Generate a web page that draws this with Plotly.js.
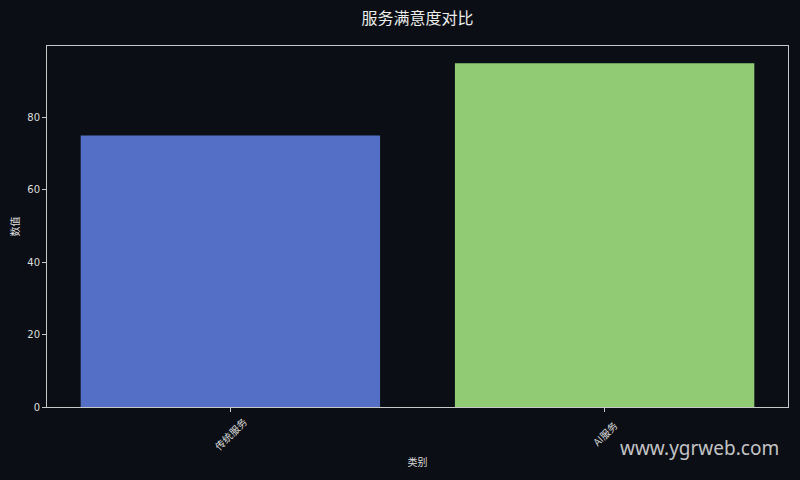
<!DOCTYPE html>
<html>
<head>
<meta charset="utf-8">
<script src="https://cdn.plot.ly/plotly-3.0.1.min.js"></script>
<style>
  html, body { margin: 0; padding: 0; background: #0b0e14; }
  #chart { width: 800px; height: 480px; }
</style>
</head>
<body>
<div id="chart"></div>
<script>
// chart data
const categories = ['传统服务', 'AI服务'];
const values = [75, 95];
const barColors = ['#5470c6', '#91cc75'];
const yTicks = [0, 20, 40, 60, 80];

const textColor = '#dddddd';
const spineColor = '#c8c8c8';
const cjkFont = '"Noto Sans CJK SC", "DejaVu Sans", sans-serif';

// rotated category labels, centred on their tick like matplotlib's rotation=45
const labelNotes = categories.map(c => ({
    x: c, xref: 'x',
    y: 0, yref: 'paper',
    yanchor: 'middle', xanchor: 'center',
    yshift: -26,
    text: c,
    textangle: -45,
    showarrow: false,
    font: { family: cjkFont, size: 10, color: textColor }
}));

Plotly.newPlot('chart', [{
    type: 'bar',
    x: categories,
    y: values,
    width: 0.8,
    marker: { color: barColors, line: { width: 0 } },
    hoverinfo: 'x+y'
}], {
    width: 800,
    height: 480,
    paper_bgcolor: '#0b0e14',
    plot_bgcolor: '#0b0e14',
    font: { family: cjkFont, color: textColor, size: 10 },
    margin: { l: 46.5, r: 12, t: 46, b: 73 },
    title: {
        text: '服务满意度对比',
        font: { family: cjkFont, size: 16, color: '#eeeeee' },
        xref: 'paper', x: 0.5, xanchor: 'center',
        y: 0.962, yanchor: 'middle'
    },
    xaxis: {
        type: 'category',
        range: [-0.49, 1.49],
        showticklabels: false,
        ticks: 'outside', ticklen: 4, tickcolor: spineColor,
        showline: true, linecolor: spineColor, linewidth: 1, mirror: true,
        showgrid: false, zeroline: false,
        title: { text: '类别', font: { family: cjkFont, size: 10, color: textColor }, standoff: 47 }
    },
    yaxis: {
        range: [0, 99.75],
        tickvals: yTicks,
        ticks: 'outside', ticklen: 4, tickcolor: spineColor,
        tickfont: { family: '"DejaVu Sans", sans-serif', size: 10, color: textColor },
        showline: true, linecolor: spineColor, linewidth: 1, mirror: true,
        showgrid: false, zeroline: false,
        title: { text: '数值', font: { family: cjkFont, size: 10, color: textColor }, standoff: 5 }
    },
    annotations: labelNotes.concat([{
        x: 0.881, xref: 'paper',
        y: -0.1136, yref: 'paper',
        text: 'www.ygrweb.com',
        showarrow: false,
        xanchor: 'center', yanchor: 'middle',
        font: { family: '"Noto Sans", "DejaVu Sans", sans-serif', size: 19, color: 'rgba(230,230,230,0.85)' }
    }]),
    showlegend: false,
    bargap: 0.2
}, { displayModeBar: false, staticPlot: true });
</script>
</body>
</html>
